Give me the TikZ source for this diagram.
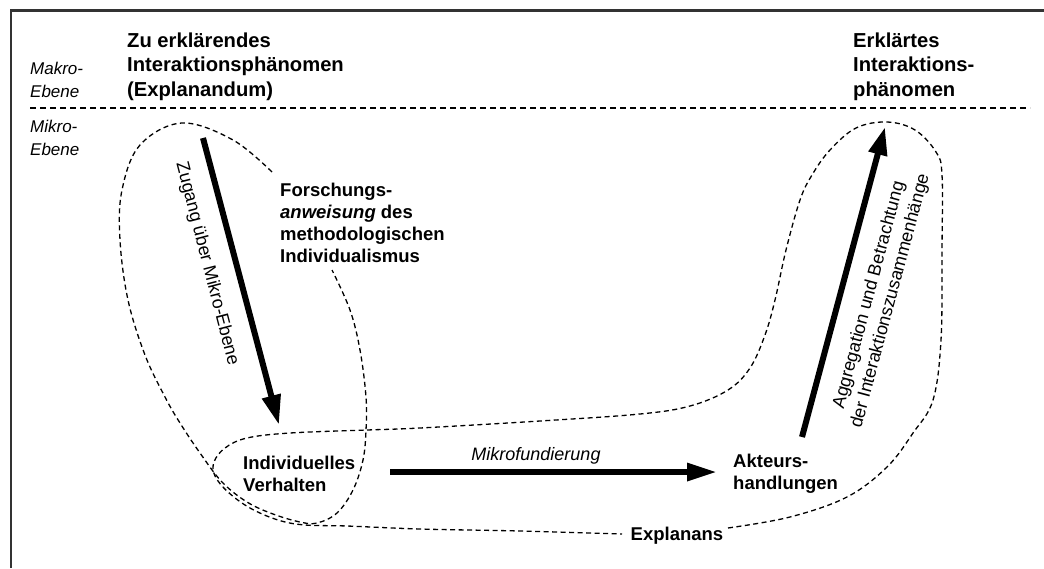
\documentclass[tikz,border=0pt]{standalone}
\usepackage{fontspec}
\setmainfont{Liberation Sans}
\usetikzlibrary{arrows.meta}
\begin{document}
\begin{tikzpicture}[x=1pt,y=-1pt,
  head/.style={font=\fontsize{20.2}{24.5}\selectfont\bfseries, align=left, inner sep=0pt, anchor=north west},
  level/.style={font=\fontsize{17}{22.5}\selectfont\itshape, align=left, inner sep=0pt, anchor=north west},
  lbl/.style={font=\fontsize{18.5}{22}\selectfont\bfseries, align=left, inner sep=0pt, anchor=north west},
  single/.style={inner sep=0pt, anchor=base},
  rot/.style={font=\fontsize{18}{22}\selectfont, align=center, inner sep=0pt},
  bigarrow/.style={line width=6pt, -{Triangle[length=30pt,width=18pt]}},
  region/.style={dash pattern=on 5pt off 3.5pt, line width=1.3pt},
  sep/.style={dash pattern=on 6pt off 4pt, line width=1.2pt},
  frame/.style={line width=2.6pt, draw=black!80}
]
\useasboundingbox (0,0) rectangle (1044,568);
\draw[frame] (11,568) -- (11,10.5) -- (1044,10.5);

% headings
\node[head] (explanandum) at (127,32.5) {Zu erklärendes\\Interaktionsphänomen\\(Explanandum)};
\node[head] (explained) at (853,32.5) {Erklärtes\\Interaktions-\\phänomen};
\node[level] (makro) at (30,62) {Makro-\\Ebene};
\node[level] (mikro) at (30,120) {Mikro-\\Ebene};
\draw[sep] (30,108) -- (1030,108);

% text blocks
\node[lbl] (forsch) at (280,183) {Forschungs-\\\textit{anweisung} des\\methodologischen\\Individualismus};
\node[lbl] (indiv) at (243,456) {Individuelles\\Verhalten};
\node[lbl] (akteur) at (733,454) {Akteurs-\\handlungen};
\node[single, font=\fontsize{18.5}{22}\selectfont\bfseries] (explanans) at (677,540) {Explanans};
\node[single, font=\fontsize{18}{22}\selectfont\itshape] (mikrof) at (536,460) {Mikrofundierung};

% arrows
\coordinate (zs) at (203,138);
\coordinate (ze) at (279,425);
\draw[bigarrow] (zs) -- (ze);
\node[rot, rotate=-75.5] (zugang) at (207,264) {Zugang über Mikro-Ebene};

\coordinate (ms) at (390,472);
\coordinate (me) at (717,472);
\draw[line width=6pt, -{Triangle[length=30pt,width=17pt]}] (ms) -- (me);

\coordinate (as) at (802,437);
\coordinate (ae) at (885,127);
\draw[line width=6pt, -{Triangle[length=28pt,width=18pt]}] (as) -- (ae);
\node[rot, rotate=75] (aggr) at (880,298) {Aggregation und Betrachtung\\der Interaktionszusammenhänge};

% dashed regions
\draw[region] plot[smooth, tension=0.6] coordinates {(272,172) (233,140) (182,123) (140,145) (122,190) (120,240) (128,300) (145,355) (165,397) (180,423) (200,453) (222,482) (247,502) (273,514) (300,522) (317,523) (337,513) (353,490) (363,460) (366,430) (366,397) (360,350) (350,310) (332,270)};

\draw[region] plot[smooth, tension=0.6] coordinates {(728,528) (790,517) (847,497) (887,467) (913,433) (933,400) (941,340) (942,250) (942,175) (936,152) (915,130) (887,122) (856,128) (830,150) (812,175) (800,200) (786,250) (775,300) (765,335) (750,368) (728,390) (690,406) (640,414) (540,421) (420,428) (367,430) (290,433) (247,438) (225,448) (214,462) (215,476) (228,492) (250,508) (278,520) (305,525) (347,526) (420,529) (520,531) (622,534)};
\end{tikzpicture}
\end{document}
